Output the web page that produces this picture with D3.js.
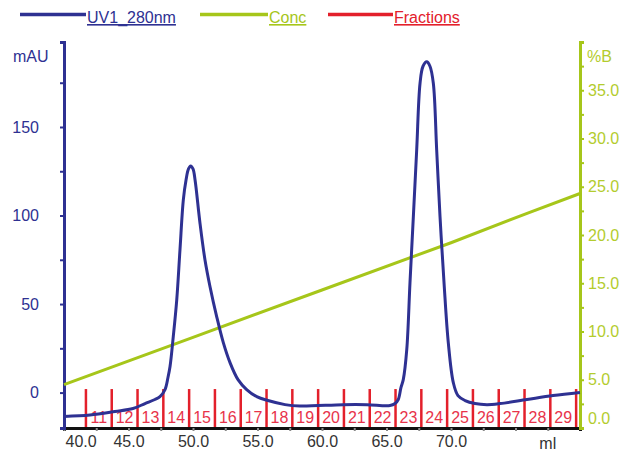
<!DOCTYPE html>
<html>
<head>
<meta charset="utf-8">
<script src="https://cdn.jsdelivr.net/npm/d3@7"></script>
<style>
  body { margin: 0; background: #fff; }
  text { font-family: "Liberation Sans", Arial, sans-serif; }
</style>
</head>
<body>
<div id="chart"></div>
<script>
// UV trace: [ml, mAU]
var uvData = [
    [40.00, -13.5], [42.02, -12.7], [43.95, -10.7], [45.35, -9.0], [46.28, -6.2],
    [47.05, -3.9], [47.44, -2.3], [47.83, 1.7], [48.06, 8.5], [48.22, 14.7],
    [48.47, 31.6], [48.74, 52.4], [48.99, 80.6], [49.25, 108.8], [49.46, 120.1],
    [49.65, 126.3], [49.82, 128.0], [50.00, 126.3], [50.16, 120.1], [50.54, 95.8],
    [50.93, 74.9], [51.32, 59.8], [51.84, 42.8], [52.35, 28.2], [52.87, 16.9],
    [53.49, 7.3], [54.16, 1.7], [54.94, -2.3], [55.81, -4.5], [57.13, -6.8],
    [58.29, -7.6], [61.63, -6.8], [63.49, -6.8], [65.27, -7.3], [65.66, -6.2],
    [65.91, -3.9], [66.12, 2.8], [66.30, 7.3], [66.57, 24.2], [66.82, 62.0],
    [67.08, 99.2], [67.34, 137.0], [67.60, 174.7], [67.83, 184.3], [68.12, 186.8],
    [68.37, 184.3], [68.63, 174.7], [68.89, 137.0], [69.15, 99.2], [69.46, 62.0],
    [69.79, 28.2], [70.18, 5.6], [70.54, -1.7], [71.09, -4.5], [71.86, -6.2],
    [72.79, -6.8], [73.80, -6.2], [75.89, -3.9], [77.91, -1.7], [80.00, 0.0]
];

// gradient (%B)
var concData = [[40, 4.5], [50, 9.4], [60, 14.3], [70, 19.2], [76, 22.3], [80, 24.3]];

// fraction boundaries (ml) and names
var fractionMarks = [41.7, 43.7, 45.7, 47.7, 49.7, 51.7, 53.7, 55.7, 57.7, 59.7,
                     61.7, 63.7, 65.7, 67.7, 69.7, 71.7, 73.7, 75.7, 77.7, 79.7];
var fractionLabels = ["11", "12", "13", "14", "15", "16", "17", "18", "19", "20",
                      "21", "22", "23", "24", "25", "26", "27", "28", "29"];

var xTicks = [40, 42.5, 45, 47.5, 50, 52.5, 55, 57.5, 60, 62.5, 65, 67.5, 70, 72.5, 75, 77.5];
var uvTicks = [0, 25, 50, 75, 100, 125, 150, 175];
var concTicks = [0, 2.5, 5, 7.5, 10, 12.5, 15, 17.5, 20, 22.5, 25, 27.5, 30, 32.5, 35, 37.5];

var legendItems = [
    {name: "UV1_280nm", color: "#2e3192", x0: 20, x1: 86},
    {name: "Conc", color: "#a6c61a", x0: 200, x1: 268},
    {name: "Fractions", color: "#e3202b", x0: 328, x1: 393}
];

var width_svg = 619, height_svg = 452;
var blue = "#2e3192", green = "#a6c61a", red = "#e3202b";

var svg = d3.select("#chart")
            .append("svg")
            .attr("width", width_svg)
            .attr("height", height_svg);

var x = d3.scaleLinear().domain([40, 80]).range([64, 580]);
var yUV = d3.scaleLinear().domain([-20, 198]).range([428, 42]);
var yB = d3.scaleLinear().domain([0, 40]).range([428, 42]);

// legend
var leg = svg.append("g");
leg.selectAll("line")
    .data(legendItems)
    .join("line")
    .attr("x1", d => d.x0)
    .attr("x2", d => d.x1)
    .attr("y1", 14.5)
    .attr("y2", 14.5)
    .attr("stroke", d => d.color)
    .attr("stroke-width", 3.5);
leg.selectAll("text")
    .data(legendItems)
    .join("text")
    .attr("x", d => d.x1 + 1)
    .attr("y", 23)
    .text(d => d.name)
    .attr("fill", d => d.color)
    .style("font-size", "16px")
    .style("text-decoration", "underline");

// fractions
var frac = svg.append("g");
frac.selectAll("line")
    .data(fractionMarks)
    .join("line")
    .attr("x1", d => x(d))
    .attr("x2", d => x(d))
    .attr("y1", yUV(2))
    .attr("y2", yUV(-20))
    .attr("stroke", red)
    .attr("stroke-width", 2.5);
frac.selectAll("text")
    .data(fractionLabels)
    .join("text")
    .attr("x", (d, i) => (x(fractionMarks[i]) + x(fractionMarks[i + 1])) / 2)
    .attr("y", 423)
    .attr("text-anchor", "middle")
    .text(d => d)
    .attr("fill", "#e8334a")
    .style("font-size", "16px");

// bottom axis
var xAxis = svg.append("g")
    .attr("transform", "translate(0," + yUV(-20) + ")")
    .call(d3.axisBottom(x)
            .tickValues(xTicks)
            .tickSize(3)
            .tickPadding(5)
            .tickFormat(d => (d % 5 === 0 && d <= 70) ? d3.format(".1f")(d) : ""));
xAxis.select(".domain").attr("stroke", "#111").attr("stroke-width", 3);
xAxis.selectAll(".tick line").attr("stroke", "#888").attr("stroke-width", 2);
xAxis.selectAll(".tick text")
    .attr("fill", "#333")
    .style("font-size", "16px")
    .style("font-family", "Liberation Sans, Arial, sans-serif");
xAxis.selectAll(".tick text")
    .filter(d => d === 40)
    .attr("text-anchor", "start")
    .attr("x", 1);
svg.append("text")
    .attr("x", x(77.5))
    .attr("y", 449)
    .attr("text-anchor", "middle")
    .text("ml")
    .attr("fill", "#333")
    .style("font-size", "16px");

// left axis (mAU)
var yAxisL = svg.append("g")
    .attr("transform", "translate(" + x(40) + ",0)")
    .call(d3.axisLeft(yUV)
            .tickValues(uvTicks)
            .tickSize(4)
            .tickPadding(21)
            .tickFormat(d => d % 50 === 0 ? d : ""));
yAxisL.select(".domain").attr("stroke", blue).attr("stroke-width", 3);
yAxisL.selectAll(".tick line").attr("stroke", blue).attr("stroke-width", 2);
yAxisL.selectAll(".tick text")
    .attr("fill", blue)
    .style("font-size", "16px")
    .style("font-family", "Liberation Sans, Arial, sans-serif");
svg.append("text")
    .attr("x", 13)
    .attr("y", 62)
    .text("mAU")
    .attr("fill", blue)
    .style("font-size", "16px");

// right axis (%B)
var yAxisR = svg.append("g")
    .attr("transform", "translate(" + x(80) + ",0)")
    .call(d3.axisRight(yB)
            .tickValues(concTicks)
            .tickSize(4)
            .tickPadding(4)
            .tickFormat(d => d % 5 === 0 ? d3.format(".1f")(d) : ""));
yAxisR.select(".domain").attr("stroke", green).attr("stroke-width", 3);
yAxisR.selectAll(".tick line").attr("stroke", green).attr("stroke-width", 2);
yAxisR.selectAll(".tick text")
    .attr("fill", "#b3cc2e")
    .style("font-size", "16px")
    .style("font-family", "Liberation Sans, Arial, sans-serif");
yAxisR.selectAll(".tick text")
    .filter(d => d === 0)
    .attr("y", -10);
svg.append("text")
    .attr("x", 587)
    .attr("y", 62)
    .text("%B")
    .attr("fill", "#b3cc2e")
    .style("font-size", "16px");

// conc line
svg.append("path")
    .datum(concData)
    .attr("fill", "none")
    .attr("stroke", green)
    .attr("stroke-width", 3)
    .attr("d", d3.line().x(d => x(d[0])).y(d => yB(d[1])));

// UV trace
svg.append("path")
    .datum(uvData)
    .attr("fill", "none")
    .attr("stroke", blue)
    .attr("stroke-width", 3)
    .attr("stroke-linejoin", "round")
    .attr("d", d3.line().curve(d3.curveCatmullRom.alpha(0.5)).x(d => x(d[0])).y(d => yUV(d[1])));
</script>
</body>
</html>
